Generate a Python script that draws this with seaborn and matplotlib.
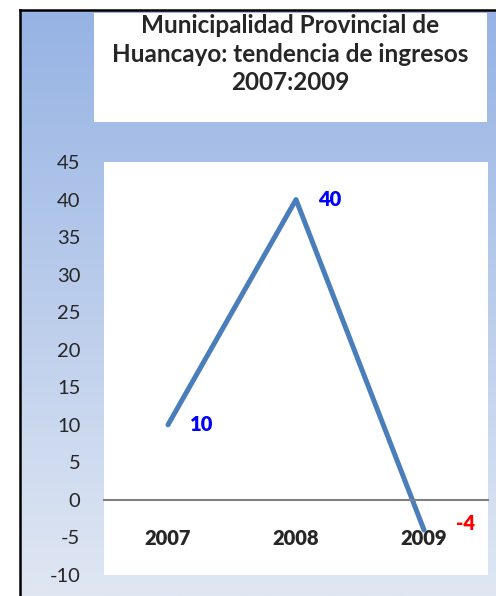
import matplotlib

matplotlib.use("Agg")

import numpy as np
import pandas as pd
import matplotlib.pyplot as plt
import seaborn as sns

# datos
anios = ["2007", "2008", "2009"]
valores = [10, 40, -4]
titulo = "Municipalidad Provincial de\nHuancayo: tendencia de ingresos\n2007:2009"
y_ticks = list(range(-10, 50, 5))

df = pd.DataFrame({"anio": anios, "valor": valores})

sns.set_style("white")
plt.rcParams["font.family"] = ["Lato", "DejaVu Sans"]
plt.rcParams["axes.unicode_minus"] = False

W, H = 496, 596
fig = plt.figure(figsize=(W / 100, H / 100), dpi=100)

# fondo con degradado (marco del grafico)
bg = fig.add_axes([20 / W, 0, 1 - 20 / W, 1 - 10 / H], zorder=0)
top_c = np.array([150, 179, 228]) / 255
bot_c = np.array([224, 231, 243]) / 255
t = np.linspace(0, 1, 256)[:, None]
grad = top_c[None, :] * (1 - t) + bot_c[None, :] * t
bg.imshow(grad[:, None, :], aspect="auto", extent=[0, 1, 0, 1])
bg.set_xticks([])
bg.set_yticks([])
for side in ["right", "bottom"]:
    bg.spines[side].set_visible(False)
for side in ["left", "top"]:
    bg.spines[side].set_color("black")
    bg.spines[side].set_linewidth(1.8)

# caja del titulo
tbox = fig.add_axes([94 / W, 1 - 122 / H, 393 / W, 109 / H], zorder=1)
tbox.set_facecolor("white")
tbox.set_xticks([])
tbox.set_yticks([])
for s in tbox.spines.values():
    s.set_visible(False)
fig.text(290.5 / W, 1 - 54 / H, titulo, ha="center", va="center",
         fontsize=17.5, fontweight="bold", linespacing=1.27, zorder=3)

# area de trazado
ax = fig.add_axes([104 / W, 1 - 575 / H, 384 / W, 413 / H], zorder=2)
ax.set_facecolor("white")
sns.lineplot(data=df, x="anio", y="valor", ax=ax, sort=False,
             color="#4a7ebb", linewidth=3.6, solid_capstyle="round")

ax.set_xlim(-0.5, len(anios) - 0.5)
ax.set_ylim(y_ticks[0], y_ticks[-1])
ax.set_yticks(y_ticks)
ax.set_xlabel("")
ax.set_ylabel("")

for side in ["left", "right", "top"]:
    ax.spines[side].set_visible(False)
ax.spines["bottom"].set_position(("data", 0))
ax.spines["bottom"].set_color("#808080")
ax.spines["bottom"].set_linewidth(1.5)
ax.tick_params(axis="y", length=0, pad=17, labelsize=14.5)
ax.tick_params(axis="x", length=0, pad=21, labelsize=14.5)
for lab in ax.get_xticklabels():
    lab.set_fontweight("heavy")

# etiquetas de datos
offsets = [(16, 0), (16, 0), (23, 5)]
for i, (v, off) in enumerate(zip(valores, offsets)):
    ax.annotate(str(v), xy=(i, v), xytext=off, textcoords="offset points",
                ha="left", va="center", fontsize=14.5, fontweight="heavy",
                color="#0000ff" if v >= 0 else "#ff0000")

fig.savefig("out.png", dpi=100)
plt.close("all")
